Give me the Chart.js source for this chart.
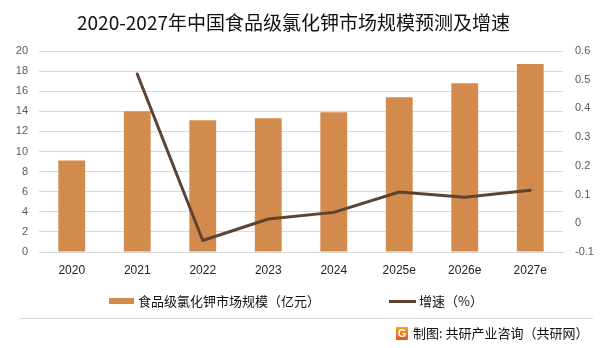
<!DOCTYPE html>
<html>
<head>
<meta charset="utf-8">
<script src="https://cdn.jsdelivr.net/npm/chart.js@4/dist/chart.umd.min.js"></script>
<style>
  html, body { margin: 0; padding: 0; background: #fff; }
  #wrap { position: relative; width: 601px; height: 348px; overflow: hidden; font-family: "Noto Sans CJK SC", "Noto Sans", sans-serif; }
  #c { position: absolute; left: 0; top: 0; }
  #title { position: absolute; left: 0; width: 587px; top: 8px; text-align: center; font-size: 19px; line-height: 28px; color: #111; }
  .leg { position: absolute; top: 291px; font-size: 13px; line-height: 20px; color: #111; white-space: nowrap; }
  .sw-bar { display: inline-block; width: 25px; height: 6px; background: #D38B4D; vertical-align: middle; margin-right: 4px; position: relative; top: -1px; }
  .sw-line { display: inline-block; width: 27px; height: 3px; background: #5E4330; vertical-align: middle; margin-right: 3px; position: relative; top: -1px; }
  #sep { position: absolute; left: 20px; top: 318px; width: 573px; height: 1px; background: #d9d9d9; }
  #footer { position: absolute; left: 396px; top: 323px; font-size: 13px; line-height: 20px; color: #111; white-space: nowrap; }
  .logo { display: inline-block; width: 12px; height: 13px; background: linear-gradient(#f7a21b, #e8511c); color: #fff; font: bold 11px/13px "Liberation Sans", sans-serif; text-align: center; vertical-align: middle; margin-right: 5px; position: relative; top: -1px; border-radius: 1px; }
</style>
</head>
<body>
<div id="wrap">
  <canvas id="c" width="601" height="348"></canvas>
  <div id="title">2020-2027年中国食品级氯化钾市场规模预测及增速</div>
  <div class="leg" style="left:109px;"><span class="sw-bar"></span>食品级氯化钾市场规模（亿元）</div>
  <div class="leg" style="left:389px;"><span class="sw-line"></span>增速（%）</div>
  <div id="sep"></div>
  <div id="footer"><span class="logo">G</span>制图: 共研产业咨询（共研网）</div>
</div>
<script>
const categories = ['2020', '2021', '2022', '2023', '2024', '2025e', '2026e', '2027e'];
const marketSize = [9.1, 14.0, 13.1, 13.3, 13.9, 15.4, 16.8, 18.7];
const growthRate = [null, 0.52, -0.06, 0.015, 0.038, 0.109, 0.091, 0.115];
const leftAxisRange = [0, 20, 2];
const rightAxisRange = [-0.1, 0.6, 0.1];
const seriesNames = ['食品级氯化钾市场规模（亿元）', '增速（%）'];

const barColor = '#D38B4D';
const lineColor = '#5E4330';
const gridColor = '#d9d9d9';

new Chart(document.getElementById('c'), {
  data: {
    labels: categories,
    datasets: [
      {
        type: 'line',
        label: seriesNames[1],
        data: growthRate,
        yAxisID: 'y1',
        borderColor: lineColor,
        backgroundColor: lineColor,
        borderWidth: 3,
        pointRadius: 0,
        tension: 0,
        borderCapStyle: 'round',
        borderJoinStyle: 'round',
        order: 0
      },
      {
        type: 'bar',
        label: seriesNames[0],
        data: marketSize,
        yAxisID: 'y',
        backgroundColor: barColor,
        categoryPercentage: 1,
        barPercentage: 0.41,
        order: 1
      }
    ]
  },
  options: {
    responsive: false,
    animation: false,
    layout: { padding: { top: 51, bottom: 66, left: 0, right: 0 } },
    plugins: { legend: { display: false }, tooltip: { enabled: false } },
    scales: {
      x: {
        grid: { display: false, drawTicks: false },
        border: { display: true, color: gridColor, width: 1 },
        ticks: { color: '#222', padding: 11, font: { family: 'Liberation Sans', size: 12 }, maxRotation: 0 },
        afterFit: s => { s.height = 30; }
      },
      y: {
        position: 'left',
        min: leftAxisRange[0], max: leftAxisRange[1],
        ticks: { stepSize: leftAxisRange[2], color: '#595959', padding: 11, font: { family: 'Liberation Sans', size: 11 } },
        grid: { color: gridColor, drawTicks: false, lineWidth: 1 },
        border: { display: false },
        afterFit: s => { s.width = 39; }
      },
      y1: {
        position: 'right',
        min: rightAxisRange[0], max: rightAxisRange[1],
        ticks: {
          stepSize: rightAxisRange[2], color: '#595959', padding: 12,
          font: { family: 'Liberation Sans', size: 11 },
          callback: v => String(Number(v.toFixed(1)))
        },
        grid: { display: false, drawTicks: false },
        border: { display: false },
        afterFit: s => { s.width = 38; }
      }
    }
  }
});
</script>
</body>
</html>
